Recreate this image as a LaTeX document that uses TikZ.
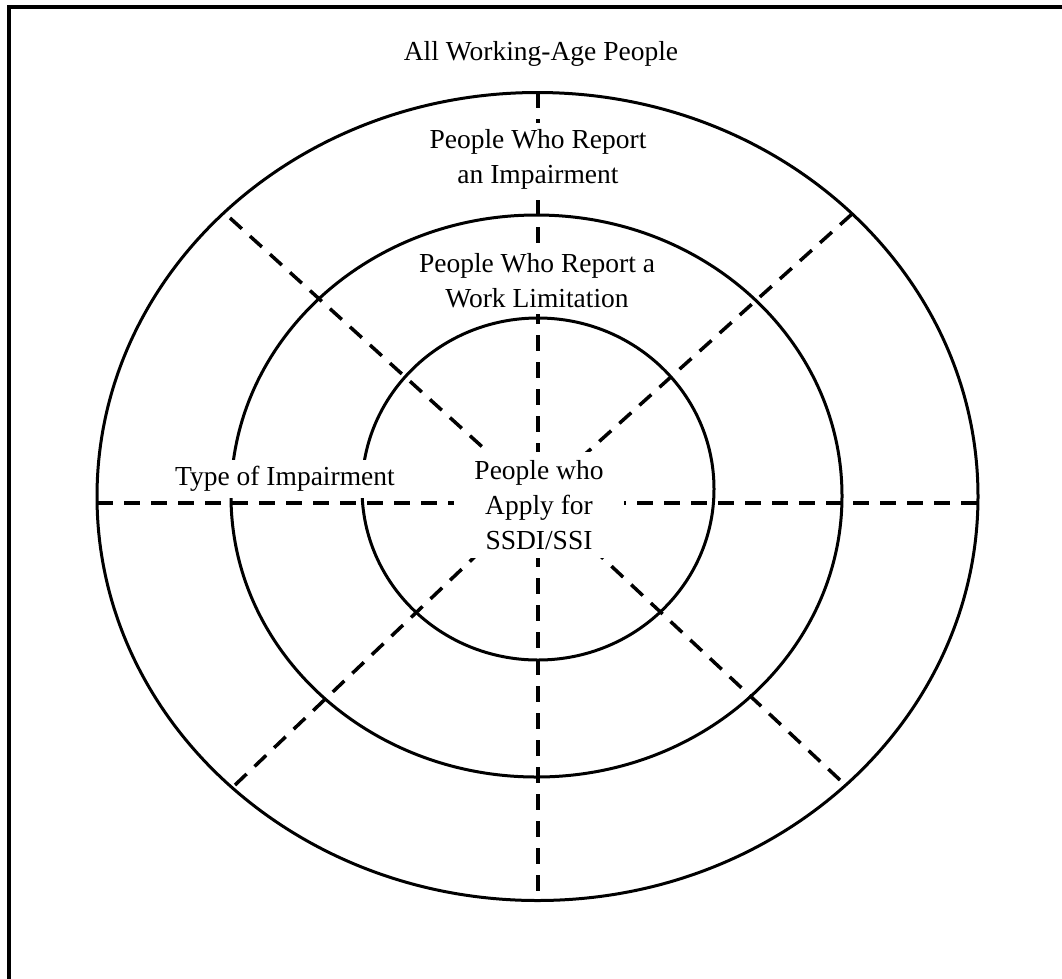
\documentclass[tikz,border=0pt]{standalone}
\usepackage{fontspec}
\setmainfont{Liberation Serif}
\begin{document}
\begin{tikzpicture}[x=1pt,y=-1pt,
  frame/.style={line width=4pt},
  ring/.style={line width=3pt},
  spoke/.style={line width=3.5pt, dash pattern=on 16pt off 11pt},
  lbl/.style={font=\fontsize{27.5}{35}\selectfont, align=center, fill=white, inner xsep=2pt, inner ysep=6pt},
]
\useasboundingbox (0,0) rectangle (1062,978);
\clip (0,0) rectangle (1062,978);
\draw[frame] (9,7) rectangle (1090,1000);

% reference points
\coordinate (c) at (537.5,497);
\coordinate (vt) at (538,92);
\coordinate (vb) at (538,900);
\coordinate (hl) at (97,503);
\coordinate (hr) at (978,503);
\coordinate (dtl) at (230,218);
\coordinate (dtr) at (852,214);
\coordinate (dbl) at (235,785);
\coordinate (dbr) at (840,780);

% dashed spokes
\draw[spoke] (vt) -- (vb);
\draw[spoke] (hl) -- (hr);
\draw[spoke] (dtl) -- (c);
\draw[spoke] (dtr) -- (c);
\draw[spoke] (dbl) -- (c);
\draw[spoke] (dbr) -- (c);

% rings
\draw[ring] (537.5,496.5) ellipse [x radius=440.5, y radius=404];
\draw[ring] (536.5,496) ellipse [x radius=305.5, y radius=281];
\draw[ring] (538,489) ellipse [x radius=176, y radius=171];

% labels
\node[lbl, fill=none] (all) at (541,53.5) {All Working-Age People};
\node[lbl] (imp) at (538,159) {People Who Report\\an Impairment};
\node[lbl] (wl) at (537,281) {People Who Report a\\Work Limitation};
\node[lbl] (type) at (285,479) {Type of Impairment};
\node[lbl, inner xsep=20pt, inner ysep=8pt] (app) at (539,505) {People who\\Apply for\\SSDI/SSI};
\end{tikzpicture}
\end{document}
